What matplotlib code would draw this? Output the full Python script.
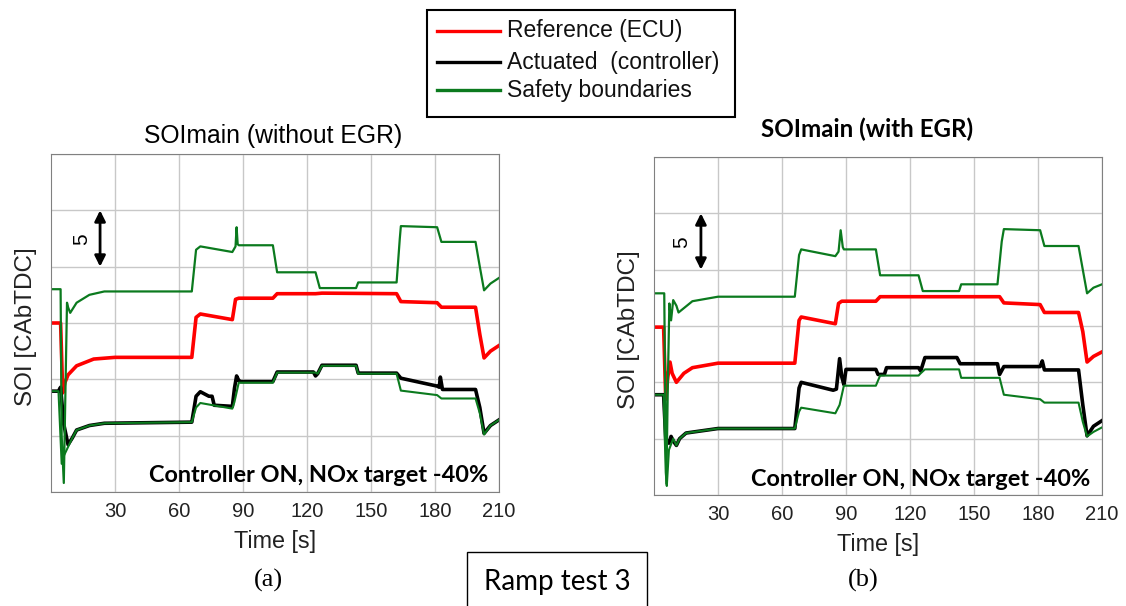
import matplotlib
matplotlib.use('Agg')
import matplotlib.pyplot as plt
from matplotlib.lines import Line2D
from matplotlib.patches import Rectangle

plt.rcParams['font.family'] = ['Liberation Sans', 'DejaVu Sans']

# (a) without EGR
ta_ref = [0, 4.5, 5.5, 6.5, 8, 12, 20, 30, 66, 68, 70, 85, 86.5, 88, 104, 106, 124, 127, 162, 164, 181, 183, 199, 201, 203, 206, 210]
ya_ref = [15.0, 15.0, 8.8, 9.7, 10.4, 11.2, 11.8, 11.95, 11.95, 15.5, 15.8, 15.3, 17.1, 17.2, 17.2, 17.6, 17.6, 17.65, 17.6, 16.9, 16.8, 16.4, 16.4, 14.0, 11.9, 12.5, 13.0]

ta_act = [0, 3.5, 4.5, 6, 8, 10, 12, 18, 25, 66, 68, 70, 74, 75.5, 76.5, 85, 86, 87, 88, 89, 104, 106, 123, 124, 125, 127, 143, 144, 162, 164, 181, 182, 182.5, 183.5, 199, 201, 203, 206, 210]
ya_act = [8.95, 8.95, 9.3, 6.0, 4.2, 4.8, 5.5, 5.9, 6.1, 6.2, 8.5, 8.9, 8.5, 8.5, 7.7, 7.6, 9.2, 10.3, 9.9, 9.8, 9.8, 10.65, 10.65, 10.3, 10.5, 11.25, 11.25, 10.55, 10.55, 10.1, 9.4, 9.3, 10.2, 9.1, 9.1, 7.5, 5.2, 5.9, 6.4]

ta_low = [0, 3.5, 5, 6, 8, 10, 12, 18, 25, 66, 68, 70, 85, 86, 88, 104, 106, 124, 125, 127, 143, 144, 162, 164, 181, 183, 199, 201, 203, 206, 210]
ya_low = [8.95, 8.95, 2.5, 3.2, 4.0, 4.8, 5.5, 5.9, 6.1, 6.2, 7.5, 7.9, 7.4, 8.0, 9.7, 9.7, 10.6, 10.6, 10.5, 11.2, 11.2, 10.5, 10.5, 9.0, 8.6, 8.3, 8.3, 7.0, 5.1, 5.9, 6.4]

ta_upp = [0, 4.5, 5, 6, 7.5, 8, 9, 12, 18, 25, 66, 68, 70, 85, 86.5, 87, 87.5, 88, 104, 106, 124, 126, 143, 144, 162, 163.5, 164, 181, 183, 199, 201, 203, 206, 210]
ya_upp = [18.0, 18.0, 5.0, 0.8, 16.8, 16.4, 15.9, 16.8, 17.5, 17.8, 17.8, 21.5, 21.8, 21.3, 21.8, 23.5, 22.0, 21.9, 21.9, 19.5, 19.5, 18.1, 18.1, 18.6, 18.6, 22.5, 23.6, 23.5, 22.2, 22.2, 20.0, 17.9, 18.5, 19.0]

# (b) with EGR
tb_ref = [0, 4.5, 5.5, 6.5, 7.5, 8.5, 10.5, 14, 18, 30, 66, 68, 69, 85, 86.5, 88, 104, 106, 162, 164, 181, 183, 199, 201, 203, 206, 210]
yb_ref = [14.9, 14.9, 8.5, 10.5, 11.8, 10.8, 10.0, 10.8, 11.3, 11.7, 11.7, 15.5, 15.8, 15.2, 17.0, 17.2, 17.2, 17.6, 17.6, 17.05, 16.9, 16.2, 16.2, 14.5, 11.8, 12.3, 12.7]

tb_act = [0, 4.5, 5.5, 7, 8, 9, 10.5, 12, 15, 30, 66, 68, 69, 84, 85.5, 87, 88, 89, 90, 104, 105, 108, 109, 124, 125, 127, 142, 143.5, 161, 162, 164, 181, 182, 183, 199, 201, 203, 206, 210]
yb_act = [8.9, 8.9, 5.0, 4.6, 5.2, 4.8, 4.4, 5.0, 5.5, 5.9, 5.9, 9.5, 10.0, 9.3, 9.4, 12.1, 10.5, 9.8, 11.15, 11.15, 10.7, 10.7, 11.3, 11.3, 11.0, 12.2, 12.2, 11.65, 11.65, 10.7, 11.4, 11.4, 11.9, 11.1, 11.1, 8.0, 5.25, 6.1, 6.6]

tb_low = [0, 4.5, 5.5, 6, 7, 9, 10.5, 12, 15, 30, 66, 68, 69, 85, 87, 89, 104, 106, 124, 125, 127, 143, 144, 162, 164, 181, 183, 199, 201, 203, 206, 210]
yb_low = [8.9, 8.9, 2.0, 0.8, 4.0, 5.0, 4.4, 5.0, 5.5, 5.9, 5.9, 7.4, 7.75, 7.25, 8.0, 9.7, 9.7, 10.6, 10.6, 10.8, 11.15, 11.15, 10.4, 10.4, 8.9, 8.5, 8.2, 8.2, 6.5, 5.2, 5.6, 6.0]

tb_upp = [0, 4.8, 5.3, 5.8, 6.5, 7.2, 8, 9, 10.5, 11.5, 18, 30, 66, 68, 69, 85, 86.5, 87.5, 88.5, 89, 104, 106, 124, 126, 143, 144, 161, 163, 164, 181, 183, 199, 201, 203, 206, 210]
yb_upp = [17.9, 17.9, 8.0, 1.0, 10.0, 17.0, 15.5, 17.3, 16.8, 16.2, 17.2, 17.6, 17.6, 21.3, 21.8, 21.2, 21.6, 23.5, 22.0, 21.8, 21.8, 19.5, 19.5, 18.1, 18.1, 18.7, 18.7, 22.5, 23.6, 23.5, 22.1, 22.1, 20.0, 17.9, 18.4, 18.7]

x_ticks = [30, 60, 90, 120, 150, 180, 210]
y_ticks = [0, 5, 10, 15, 20, 25, 30]
legend_labels = ['Reference (ECU)', 'Actuated  (controller)', 'Safety boundaries']
note = 'Controller ON, NOx target -40%'

RED = '#ff0000'
GREEN = '#0b7a1e'


def draw_panel(ax, ref, act, low, upp, title, title_pos, title_bold, note_pos, bar_x, five_x):
    ax.plot(ref[0], ref[1], color=RED, lw=2.6)
    ax.plot(act[0], act[1], color='k', lw=2.6)
    ax.plot(low[0], low[1], color=GREEN, lw=1.5)
    ax.plot(upp[0], upp[1], color=GREEN, lw=1.6)
    ax.set_xlim(0, 210)
    ax.set_ylim(0, 30)
    ax.set_xticks(x_ticks)
    ax.set_yticks(y_ticks)
    ax.set_yticklabels([])
    ax.tick_params(length=0, labelsize=14.5, pad=7, labelcolor='#222222')
    ax.grid(True, color='#c8c8c8', lw=1.0)
    for s in ax.spines.values():
        s.set_color('#808080')
    ax.set_xlabel('Time [s]', fontsize=16.8, va='center', color='#222222')
    ax.xaxis.set_label_coords(0.5, -0.147)
    ax.set_ylabel('SOI [CAbTDC]', fontsize=17.5, va='center', color='#222222')
    ax.yaxis.set_label_coords(-0.056, 0.49)
    if title_bold:
        ax.text(title_pos[0], title_pos[1], title, transform=ax.transAxes, ha='center', va='center',
                fontsize=17.4, fontweight='bold', family=['Lato', 'DejaVu Sans'])
    else:
        ax.text(title_pos[0], title_pos[1], title, transform=ax.transAxes, ha='center', va='center',
                fontsize=17.8)
    ax.text(note_pos[0], note_pos[1], note, transform=ax.transAxes, ha='right', va='center',
            fontsize=16.9, fontweight='bold', family=['Lato', 'DejaVu Sans'])
    # scale bar of 5 units
    ax.annotate('', xy=(bar_x, 25), xytext=(bar_x, 20),
                arrowprops=dict(arrowstyle='<|-|>', color='k', lw=2, mutation_scale=16,
                                shrinkA=0, shrinkB=0))
    ax.text(five_x, 22.4, '5', rotation=90, ha='center', va='center', fontsize=15)


fig = plt.figure(figsize=(11.26, 6.06), dpi=100)
W, H = 1126.0, 606.0

ax1 = fig.add_axes([51 / W, 1 - 492 / H, 448 / W, 338 / H])
ax2 = fig.add_axes([654 / W, 1 - 495 / H, 448 / W, 338 / H])

draw_panel(ax1, (ta_ref, ya_ref), (ta_act, ya_act), (ta_low, ya_low), (ta_upp, ya_upp),
           'SOImain (without EGR)', (0.495, 1.054), False, (0.975, 0.05), 23, 14.5)
draw_panel(ax2, (tb_ref, yb_ref), (tb_act, yb_act), (tb_low, yb_low), (tb_upp, yb_upp),
           'SOImain (with EGR)', (0.475, 1.081), True, (0.973, 0.047), 22, 13)

# legend box on top
fig.patches.append(Rectangle((427 / W, 1 - 117 / H), 308 / W, 107 / H, transform=fig.transFigure,
                             fill=False, ec='k', lw=1.5))
for c, lab, yp in zip([RED, 'k', GREEN], legend_labels, [31, 62, 90]):
    fig.lines.append(Line2D([437 / W, 500 / W], [1 - yp / H, 1 - yp / H], transform=fig.transFigure,
                            color=c, lw=2.4))
    fig.text(507 / W, 1 - yp / H, lab, ha='left', va='center', fontsize=16.5, color='#111111')

fig.text(268 / W, 1 - 580 / H, '(a)', ha='center', va='center', fontsize=19,
         family=['Liberation Serif', 'DejaVu Serif'])
fig.text(863 / W, 1 - 580 / H, '(b)', ha='center', va='center', fontsize=19,
         family=['Liberation Serif', 'DejaVu Serif'])
fig.text(557 / W, 1 - 582 / H, 'Ramp test 3', ha='center', va='center', fontsize=20,
         family=['Lato', 'DejaVu Sans'],
         bbox=dict(boxstyle='square,pad=0.6', fc='white', ec='k', lw=1))

fig.savefig('out.png', dpi=100)
